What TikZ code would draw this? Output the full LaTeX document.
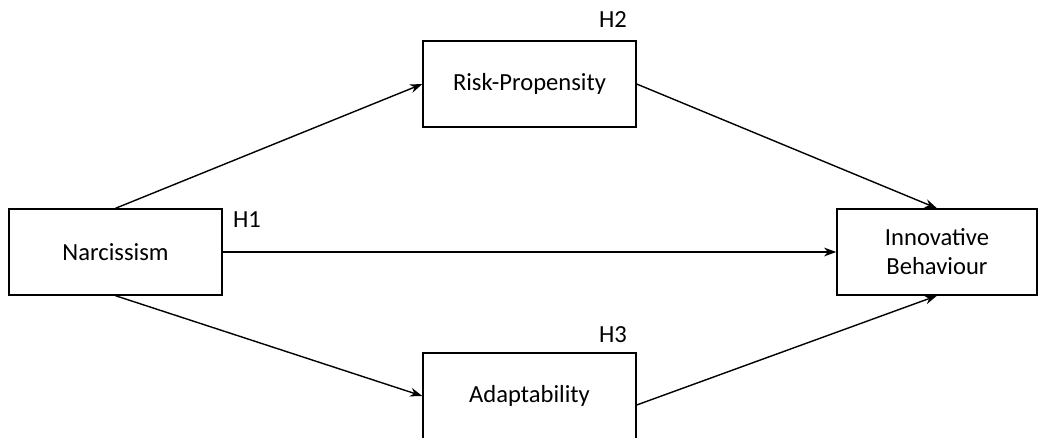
\documentclass[tikz,border=0pt]{standalone}
\usepackage{fontspec}
\setmainfont{Carlito}
\usetikzlibrary{arrows.meta}

\begin{document}
\begin{tikzpicture}[
                x=0.02cm, y=-0.02cm,
                every node/.style={font=\fontsize{14}{16.5}\selectfont},
                box/.style={
                    rectangle,
                    draw,
                    line width=0.8pt,
                    minimum width=4.26cm,
                    minimum height=1.72cm,
                    align=center
                },
                hyp/.style={inner sep=0pt},
                arrow/.style={-{Stealth[length=7pt,width=5pt]}, line width=0.8pt}
            ]
                \useasboundingbox (0,0) rectangle (1039,437);
                \clip (0,0) rectangle (1039,437);

                % boxes
                \node[box] (narc) at (115.5,252) {Narcissism};
                \node[box] (risk) at (529.5,84) {Risk-Propensity};
                \node[box] (adapt) at (529.5,396) {Adaptability};
                \node[box, minimum width=4cm] (innov) at (937,252) {Innovative\\Behaviour};

                % hypotheses
                \node[hyp] (h1) at (247,220) {H1};
                \node[hyp] (h2) at (613,20) {H2};
                \node[hyp] (h3) at (613,335) {H3};

                % paths
                \draw[arrow] (narc.north) -- (risk.west);
                \draw[arrow] (risk.east) -- (innov.north);
                \draw[arrow] (narc.east) -- (innov.west);
                \draw[arrow] (narc.south) -- (adapt.west);
                \draw[arrow] ([yshift=-0.18cm]adapt.east) -- (innov.south);
\end{tikzpicture}
\end{document}
